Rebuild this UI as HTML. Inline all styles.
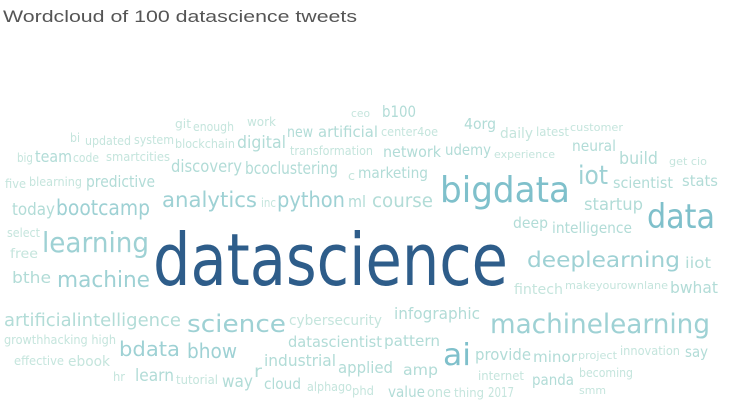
<!DOCTYPE html>
<html><head><meta charset="utf-8"><style>
html,body{margin:0;padding:0;background:#fff;width:740px;height:413px;overflow:hidden}
svg{display:block}
text{font-family:"DejaVu Sans","Liberation Sans",sans-serif}
</style></head><body>
<svg id="cloud" width="740" height="413" viewBox="0 0 740 413">
<text x="3" y="22" font-size="17" fill="#555" textLength="354" lengthAdjust="spacingAndGlyphs" style="font-family:'Liberation Sans',sans-serif">Wordcloud of 100 datascience tweets</text>
</svg>
<script>
// word data: [text, left x, baseline y, font size, rendered width]
const words = [
["datascience",153,285,72,355],
["ceo",351,117,11,19],["git",175,128,12,16],["enough",193,131,12,41],["work",247,126,12,29],
["bi",70,142,12,10],["updated",85,145,12,46],["system",134,144,12,40],["blockchain",175,148,12,60],
["digital",237,148,17,49],["new",287,137,15,26],["artificial",318,137,15,60],["transformation",290,155,12,83],
["big",17,162,12,16],["team",35,162,16,37],["code",73,162,12,26],["smartcities",106,161,12,64],
["discovery",171,172,17,71],["bcoclustering",245,174,17,93],["c",348,180,12,7],["marketing",358,178,15,70],
["five",5,188,12,21],["blearning",29,186,12,53],["predictive",86,187,16,69],
["analytics",162,207,21,95],["inc",261,207,12,15],["python",277,207,21,68],["ml",348,207,16,18],["course",372,207,19,61],
["today",12,215,17,43],["bootcamp",56,215,21,94],["select",7,237,12,33],["learning",42,252,28,107],["free",10,258,13,28],
["b100",382,117,16,34],["center4oe",381,136,12,57],["4org",464,129,15,32],["daily",500,138,14,33],["latest",536,136,12,33],["customer",570,131,11,53],
["network",383,157,15,58],["udemy",445,155,15,46],["experience",494,158,11,61],["neural",572,151,15,44],["build",619,164,17,39],["get cio",669,165,11,38],
["bigdata",440,202,36,130],["iot",578,184,26,30],["scientist",613,188,15,60],["stats",682,186,15,36],
["data",647,228,34,68],["startup",584,210,17,59],["deep",513,228,15,35],["intelligence",552,233,15,80],
["bthe",12,283,16,39],["machine",57,287,22,93],["artificialintelligence",4,326,18,177],["science",187,332,24,99],
["cybersecurity",289,325,14,93],["growthhacking high",4,344,12,112],["bdata",119,356,20,61],["datascientist",288,347,15,94],
["effective",14,365,12,50],["ebook",68,366,14,42],["bhow",187,358,20,50],["r",254,377,17,8],["industrial",264,366,16,72],["applied",338,373,16,55],
["hr",113,381,12,12],["learn",135,381,17,39],["tutorial",176,384,12,42],["way",222,387,17,31],["cloud",264,389,15,37],["alphago",307,391,12,45],["phd",352,395,12,22],
["deeplearning",527,267,21,153],["iiot",685,268,15,26],["fintech",514,294,14,49],["makeyourownlane",565,289,11,103],["bwhat",670,293,16,48],
["infographic",394,319,16,86],["machinelearning",490,333,27,220],["pattern",384,346,15,56],["ai",443,365,30,28],
["provide",475,360,16,56],["minor",533,362,15,44],["project",578,359,11,39],["innovation",620,355,12,60],["say",685,357,15,23],
["amp",403,375,15,35],["internet",478,380,12,46],["panda",532,385,15,42],["becoming",579,377,12,54],["smm",579,394,11,27],
["value",388,397,15,37],["one",427,397,14,24],["thing",454,397,12,30],["2017",488,397,13,26]
];
const svg = document.getElementById('cloud');
const NS = 'http://www.w3.org/2000/svg';
function colorFor(s){
  if(s>=60) return '#2e5d8a';
  if(s>=30) return '#7fc0cb';
  if(s>=20) return '#9ed1d4';
  if(s>=15) return '#b2dcd7';
  return '#c5e5dd';
}
for(const w of words){
  const t = document.createElementNS(NS,'text');
  t.setAttribute('x', w[1]);
  t.setAttribute('y', w[2]);
  t.setAttribute('font-size', w[3]);
  t.setAttribute('fill', colorFor(w[3]));
  t.setAttribute('textLength', w[4]);
  t.setAttribute('lengthAdjust', 'spacingAndGlyphs');
  t.textContent = w[0];
  
  
  svg.appendChild(t);
}
</script>
</body></html>
